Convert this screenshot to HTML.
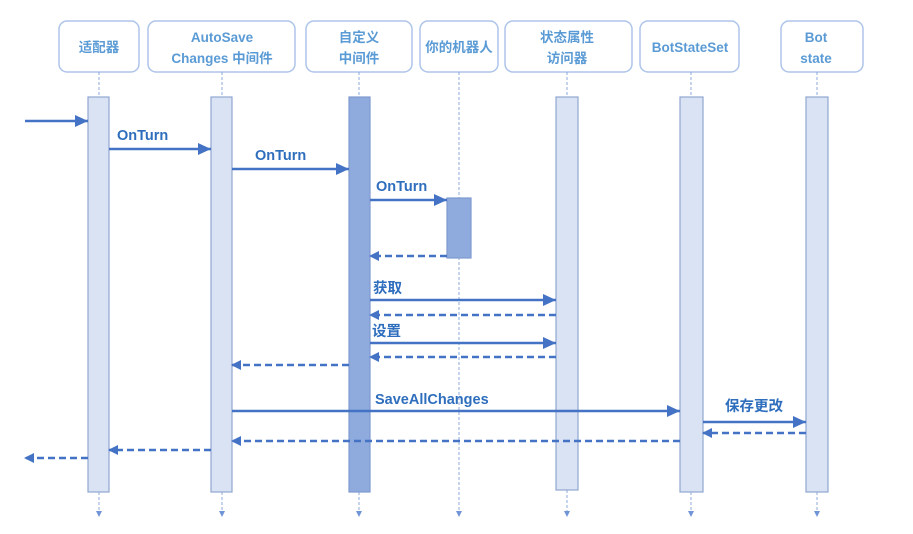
<!DOCTYPE html>
<html><head><meta charset="utf-8"><style>
html,body{margin:0;padding:0;background:#fff;width:913px;height:534px;overflow:hidden}
svg{display:block}
.h{font-family:"Liberation Sans","Noto Sans CJK SC",sans-serif;font-size:13.5px;fill:#5b9bd5;text-anchor:middle;font-weight:bold}
.l{font-family:"Liberation Sans","Noto Sans CJK SC",sans-serif;font-size:14.5px;fill:#2e6ebd;font-weight:bold}
</style></head><body>
<svg width="913" height="534" viewBox="0 0 913 534" xmlns="http://www.w3.org/2000/svg">
<defs>
<marker id="a" markerWidth="10" markerHeight="10" refX="9" refY="5" orient="auto" markerUnits="userSpaceOnUse"><path d="M0,0 L10,5 L0,10 z" fill="#4472c4"/></marker>
<marker id="b" markerWidth="14" markerHeight="14" refX="13" refY="6" orient="auto" markerUnits="userSpaceOnUse"><path d="M0,0 L13,6 L0,12 z" fill="#4472c4"/></marker>
<marker id="s" markerWidth="6" markerHeight="6" refX="5" refY="3" orient="auto" markerUnits="userSpaceOnUse"><path d="M0,0 L6,3 L0,6 z" fill="#6f95d6"/></marker>
</defs>
<g fill="#fff" stroke="#adc4ea" stroke-width="1.5">
<rect x="59" y="21" width="80" height="51" rx="8"/>
<rect x="148" y="21" width="147" height="51" rx="8"/>
<rect x="306" y="21" width="106" height="51" rx="8"/>
<rect x="420" y="21" width="78" height="51" rx="8"/>
<rect x="505" y="21" width="127" height="51" rx="8"/>
<rect x="640" y="21" width="99" height="51" rx="8"/>
<rect x="781" y="21" width="82" height="51" rx="8"/>
</g>
<text class="h" x="99" y="52">适配器</text>
<text class="h" x="222" y="42">AutoSave</text><text class="h" x="222" y="63">Changes 中间件</text>
<text class="h" x="359" y="42">自定义</text><text class="h" x="359" y="63">中间件</text>
<text class="h" x="459" y="52">你的机器人</text>
<text class="h" x="567" y="42">状态属性</text><text class="h" x="567" y="63">访问器</text>
<text class="h" x="690" y="52">BotStateSet</text>
<text class="h" x="816" y="42">Bot</text><text class="h" x="816" y="63">state</text>
<g stroke="#8fa9dc" stroke-width="1" stroke-dasharray="3,2" fill="none">
<line x1="99" y1="72" x2="99" y2="97"/><line x1="99" y1="492" x2="99" y2="516" marker-end="url(#s)"/>
<line x1="222" y1="72" x2="222" y2="97"/><line x1="222" y1="492" x2="222" y2="516" marker-end="url(#s)"/>
<line x1="359" y1="72" x2="359" y2="97"/><line x1="359" y1="492" x2="359" y2="516" marker-end="url(#s)"/>
<line x1="459" y1="72" x2="459" y2="516" marker-end="url(#s)"/>
<line x1="567" y1="72" x2="567" y2="97"/><line x1="567" y1="490" x2="567" y2="516" marker-end="url(#s)"/>
<line x1="691" y1="72" x2="691" y2="97"/><line x1="691" y1="492" x2="691" y2="516" marker-end="url(#s)"/>
<line x1="817" y1="72" x2="817" y2="97"/><line x1="817" y1="492" x2="817" y2="516" marker-end="url(#s)"/>
</g>
<g stroke="#8fa6d0" stroke-width="1.2">
<rect x="88" y="97" width="21" height="395" fill="#dae3f3"/>
<rect x="211" y="97" width="21" height="395" fill="#dae3f3"/>
<rect x="349" y="97" width="21" height="395" fill="#8faadc" stroke="#7f9ad0"/>
<rect x="447" y="198" width="24" height="60" fill="#8faadc" stroke="#7f9ad0"/>
<rect x="556" y="97" width="22" height="393" fill="#dae3f3"/>
<rect x="680" y="97" width="23" height="395" fill="#dae3f3"/>
<rect x="806" y="97" width="22" height="395" fill="#dae3f3"/>
</g>
<g stroke="#4472c4" stroke-width="2.5" fill="none">
<line x1="25" y1="121" x2="88" y2="121" marker-end="url(#b)"/>
<line x1="109" y1="149" x2="211" y2="149" marker-end="url(#b)"/>
<line x1="232" y1="169" x2="349" y2="169" marker-end="url(#b)"/>
<line x1="370" y1="200" x2="447" y2="200" marker-end="url(#b)"/>
<line x1="370" y1="300" x2="556" y2="300" marker-end="url(#b)"/>
<line x1="370" y1="343" x2="556" y2="343" marker-end="url(#b)"/>
<line x1="232" y1="411" x2="680" y2="411" marker-end="url(#b)"/>
<line x1="703" y1="422" x2="806" y2="422" marker-end="url(#b)"/>
</g>
<g stroke="#4472c4" stroke-width="2.5" fill="none" stroke-dasharray="7,4">
<line x1="447" y1="256" x2="370" y2="256" marker-end="url(#a)"/>
<line x1="556" y1="315" x2="370" y2="315" marker-end="url(#a)"/>
<line x1="556" y1="357" x2="370" y2="357" marker-end="url(#a)"/>
<line x1="349" y1="365" x2="232" y2="365" marker-end="url(#a)"/>
<line x1="806" y1="433" x2="703" y2="433" marker-end="url(#a)"/>
<line x1="680" y1="441" x2="232" y2="441" marker-end="url(#a)"/>
<line x1="211" y1="450" x2="109" y2="450" marker-end="url(#a)"/>
<line x1="88" y1="458" x2="25" y2="458" marker-end="url(#a)"/>
</g>
<text class="l" x="117" y="140">OnTurn</text>
<text class="l" x="255" y="160">OnTurn</text>
<text class="l" x="376" y="191">OnTurn</text>
<text class="l" x="373" y="293">获取</text>
<text class="l" x="372" y="336">设置</text>
<text class="l" x="375" y="404">SaveAllChanges</text>
<text class="l" x="725" y="411">保存更改</text>
</svg>
</body></html>
